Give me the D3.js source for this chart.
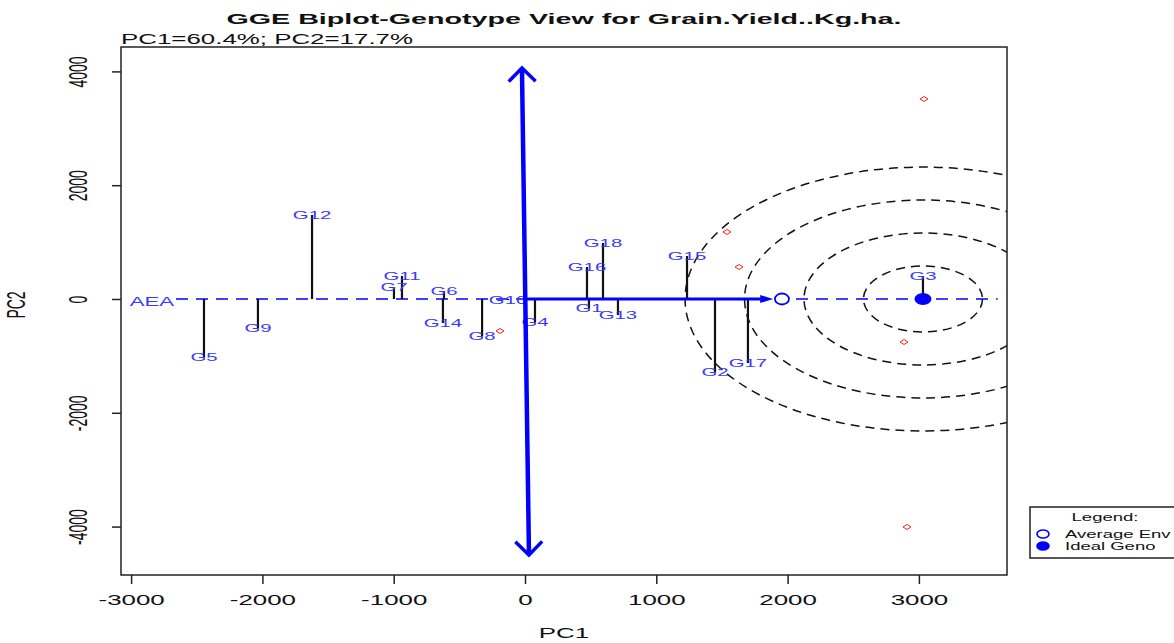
<!DOCTYPE html>
<html>
<head>
<meta charset="utf-8">
<script src="https://cdn.jsdelivr.net/npm/d3@7"></script>
<style>
  body { margin: 0; background: #fff; }
  svg { display: block; font-family: 'Liberation Sans', Arial, sans-serif; }
</style>
</head>
<body>
<div id="chart"></div>
<script>
// genotype scores (PC1, PC2)
var genotypes = ['G1', 'G2', 'G3', 'G4', 'G5', 'G6', 'G7', 'G8', 'G9', 'G10', 'G11', 'G12', 'G13', 'G14', 'G15', 'G16', 'G17', 'G18']
var genoPC1 = [487, 1447, 3031, 76, -2445, -617, -998, -327, -2034, -129, -937, -1622, 708, -625, 1234, 472, 1698, 594]
var genoPC2 = [-158, -1283, 404, -404, -1019, 141, 211, -650, -510, -18, 404, 1476, -281, -422, 756, 562, -1125, 984]

// environment points (drawn as small red markers, no labels)
var envPC1 = [1538, 1630, 3039, 2887, 2909, -190]
var envPC2 = [1178, 562, 3515, -756, -4007, -562]

// average environment, ideal genotype, AEA / AEC axes
var averageEnv = [1957, 0]
var idealGeno = [3031, 0]
var aeaStart = [-2658, 0]
var aeaEnd = [3600, 0]
var aeaLabel = [-2841, -53]
var aecTop = [-23, 4060]
var aecBottom = [30, -4500]
var aeaArrowTip = [1890, 0]
var ringRadii = [453, 906, 1359, 1812]
var ringYStretch = 1.28

var xTicks = [-3000, -2000, -1000, 0, 1000, 2000, 3000]
var yTicks = [-4000, -2000, 0, 2000, 4000]

var title = 'GGE Biplot-Genotype View for Grain.Yield..Kg.ha.'
var subtitle = 'PC1=60.4%; PC2=17.7%'
var legendItems = ['Average Env', 'Ideal Geno']

var width = 1174
var height = 643
var margin = { top: 47, left: 121, bottom: 68, right: 167 }
var sx = 1.85 // picture is stretched horizontally, text too
var blue = '#0000ff'
var labelBlue = '#3a3aff'

var svg = d3.select('#chart').append('svg')
  .attr('width', width)
  .attr('height', height)

var x = d3.scaleLinear()
  .domain([-3077, 3671])
  .range([margin.left, width - margin.right])

var y = d3.scaleLinear()
  .domain([-4851, 4429])
  .range([height - margin.bottom, margin.top])

function stretched(px, py) {
  return 'translate(' + px + ',' + py + ') scale(' + sx + ',1)'
}

// R prints a plain hyphen for negatives
function plainNumber(t) { return String(t) }

svg.append('defs').append('clipPath')
  .attr('id', 'plotclip')
  .append('rect')
  .attr('x', x.range()[0])
  .attr('y', y.range()[1])
  .attr('width', x.range()[1] - x.range()[0])
  .attr('height', y.range()[0] - y.range()[1])

var gPlot = svg.append('g').attr('clip-path', 'url(#plotclip)')

// concentric rings around the ideal genotype
gPlot.selectAll('ellipse.ring')
    .data(ringRadii)
  .enter().append('ellipse')
    .attr('class', 'ring')
    .attr('cx', x(idealGeno[0]))
    .attr('cy', y(idealGeno[1]))
    .attr('rx', function (r) { return x(r) - x(0) })
    .attr('ry', function (r) { return y(0) - y(r * ringYStretch) })
    .attr('fill', 'none')
    .attr('stroke', '#111')
    .attr('stroke-width', 1.5)
    .attr('stroke-dasharray', '9,6')

// average environment axis (dashed)
gPlot.append('line')
  .attr('x1', x(aeaStart[0])).attr('y1', y(aeaStart[1]))
  .attr('x2', x(aeaEnd[0])).attr('y2', y(aeaEnd[1]))
  .attr('stroke', blue)
  .attr('stroke-width', 1.5)
  .attr('stroke-dasharray', '12,8')

// projections of genotypes onto the AEA
var genoData = genotypes.map(function (g, i) {
  return { name: g, pc1: genoPC1[i], pc2: genoPC2[i] }
})

gPlot.selectAll('line.proj')
    .data(genoData)
  .enter().append('line')
    .attr('class', 'proj')
    .attr('x1', function (d) { return x(d.pc1) })
    .attr('x2', function (d) { return x(d.pc1) })
    .attr('y1', function (d) { return y(d.pc2) })
    .attr('y2', y(0))
    .attr('stroke', '#111')
    .attr('stroke-width', 2.2)

// environment markers
var envData = envPC1.map(function (v, i) { return [v, envPC2[i]] })
gPlot.selectAll('path.env')
    .data(envData)
  .enter().append('path')
    .attr('class', 'env')
    .attr('d', function (d) {
      var cx = x(d[0]), cy = y(d[1])
      return 'M' + (cx - 4) + ',' + cy + 'L' + cx + ',' + (cy - 2.5) + 'L' + (cx + 4) + ',' + cy + 'L' + cx + ',' + (cy + 2.5) + 'Z'
    })
    .attr('fill', 'none')
    .attr('stroke', '#ff2020')
    .attr('stroke-width', 1)

// genotype labels
gPlot.selectAll('text.geno')
    .data(genoData)
  .enter().append('text')
    .attr('class', 'geno')
    .attr('transform', function (d) { return stretched(x(d.pc1), y(d.pc2)) })
    .attr('text-anchor', 'middle')
    .attr('dy', '0.36em')
    .attr('font-size', 11)
    .attr('fill', labelBlue)
    .text(function (d) { return d.name })

gPlot.append('text')
  .attr('transform', stretched(x(aeaLabel[0]), y(aeaLabel[1])))
  .attr('text-anchor', 'middle')
  .attr('dy', '0.36em')
  .attr('font-size', 12)
  .attr('fill', labelBlue)
  .text('AEA')

// AEC ordinate: double headed arrow
function arrowHead(g, tip, from, len, color, w) {
  var ang = Math.atan2(tip[1] - from[1], tip[0] - from[0])
  var pts = [ang + Math.PI * 0.75, ang - Math.PI * 0.75].map(function (a) {
    return [tip[0] + len * Math.cos(a), tip[1] + len * Math.sin(a)]
  })
  g.append('path')
    .attr('d', 'M' + pts[0] + 'L' + tip + 'L' + pts[1])
    .attr('fill', 'none')
    .attr('stroke', color)
    .attr('stroke-width', w)
    .attr('stroke-linejoin', 'miter')
}

var pTop = [x(aecTop[0]), y(aecTop[1])]
var pBot = [x(aecBottom[0]), y(aecBottom[1])]
gPlot.append('line')
  .attr('x1', pTop[0]).attr('y1', pTop[1] + 2)
  .attr('x2', pBot[0]).attr('y2', pBot[1] - 2)
  .attr('stroke', blue)
  .attr('stroke-width', 4.5)
arrowHead(gPlot, pTop, pBot, 19, blue, 3.5)
arrowHead(gPlot, pBot, pTop, 19, blue, 3.5)

// AEA abscissa arrow from origin to the average environment
var tip = [x(aeaArrowTip[0]), y(aeaArrowTip[1])]
gPlot.append('line')
  .attr('x1', x(0)).attr('y1', y(0))
  .attr('x2', tip[0] - 8).attr('y2', tip[1])
  .attr('stroke', blue)
  .attr('stroke-width', 3)
gPlot.append('path')
  .attr('d', 'M' + tip[0] + ',' + tip[1] + 'L' + (tip[0] - 13) + ',' + (tip[1] - 4) + 'L' + (tip[0] - 13) + ',' + (tip[1] + 4) + 'Z')
  .attr('fill', blue)

// average environment and ideal genotype markers
gPlot.append('ellipse')
  .attr('cx', x(averageEnv[0])).attr('cy', y(averageEnv[1]))
  .attr('rx', 7).attr('ry', 5.5)
  .attr('fill', '#fff')
  .attr('stroke', blue)
  .attr('stroke-width', 1.8)

gPlot.append('ellipse')
  .attr('cx', x(idealGeno[0])).attr('cy', y(idealGeno[1]))
  .attr('rx', 8.5).attr('ry', 6)
  .attr('fill', blue)

// box
svg.append('rect')
  .attr('x', x.range()[0])
  .attr('y', y.range()[1])
  .attr('width', x.range()[1] - x.range()[0])
  .attr('height', y.range()[0] - y.range()[1])
  .attr('fill', 'none')
  .attr('stroke', '#222')
  .attr('stroke-width', 1.5)

// axes
var gXaxis = svg.append('g')
  .attr('transform', 'translate(0,' + y.range()[0] + ')')
  .call(d3.axisBottom(x).tickValues(xTicks).tickSize(9).tickSizeOuter(0).tickFormat(plainNumber))
gXaxis.select('.domain').remove()
gXaxis.selectAll('line').attr('stroke', '#222').attr('stroke-width', 1.5)
gXaxis.selectAll('text')
  .attr('y', null).attr('dy', null)
  .attr('transform', 'translate(0,30) scale(' + sx + ',1)')
  .attr('font-size', 14)
  .attr('font-family', null)
  .attr('fill', '#111')

var gYaxis = svg.append('g')
  .attr('transform', 'translate(' + x.range()[0] + ',0)')
  .call(d3.axisLeft(y).tickValues(yTicks).tickSize(9).tickSizeOuter(0).tickFormat(plainNumber))
gYaxis.select('.domain').remove()
gYaxis.selectAll('line').attr('stroke', '#222').attr('stroke-width', 1.5)
gYaxis.selectAll('text')
  .attr('x', null).attr('dy', null)
  .attr('text-anchor', 'middle')
  .attr('transform', 'translate(-34,0) scale(' + sx + ',1) rotate(-90)')
  .attr('font-size', 14)
  .attr('font-family', null)
  .attr('fill', '#111')

// titles
svg.append('text')
  .attr('transform', stretched((x.range()[0] + x.range()[1]) / 2, 24))
  .attr('text-anchor', 'middle')
  .attr('font-size', 15.5)
  .attr('font-weight', 'bold')
  .attr('fill', '#111')
  .text(title)

svg.append('text')
  .attr('transform', stretched(x.range()[0], 44))
  .attr('font-size', 14)
  .attr('fill', '#111')
  .text(subtitle)

svg.append('text')
  .attr('transform', stretched((x.range()[0] + x.range()[1]) / 2, 638))
  .attr('text-anchor', 'middle')
  .attr('font-size', 14)
  .attr('fill', '#111')
  .text('PC1')

svg.append('text')
  .attr('transform', 'translate(25,' + ((y.range()[0] + y.range()[1]) / 2 - 6) + ') scale(' + sx + ',1) rotate(-90)')
  .attr('text-anchor', 'middle')
  .attr('font-size', 14)
  .attr('fill', '#111')
  .text('PC2')

// legend
var gLegend = svg.append('g').attr('transform', 'translate(1030,507)')
gLegend.append('rect')
  .attr('width', 170).attr('height', 51)
  .attr('fill', '#fff')
  .attr('stroke', '#222')
  .attr('stroke-width', 1.5)
gLegend.append('text')
  .attr('transform', stretched(75, 14))
  .attr('text-anchor', 'middle')
  .attr('font-size', 10)
  .attr('fill', '#111')
  .text('Legend:')

var gItems = gLegend.selectAll('g.item')
    .data(legendItems)
  .enter().append('g')
    .attr('class', 'item')
    .attr('transform', function (d, i) { return 'translate(0,' + (27 + i * 12) + ')' })
gItems.append('ellipse')
  .attr('cx', 13).attr('cy', 0)
  .attr('rx', 6).attr('ry', 4)
  .attr('fill', function (d, i) { return i === 0 ? '#fff' : blue })
  .attr('stroke', blue)
  .attr('stroke-width', 1.6)
gItems.append('text')
  .attr('transform', stretched(35, 0))
  .attr('dy', '0.36em')
  .attr('font-size', 10)
  .attr('fill', '#111')
  .text(function (d) { return d })
</script>
</body>
</html>
